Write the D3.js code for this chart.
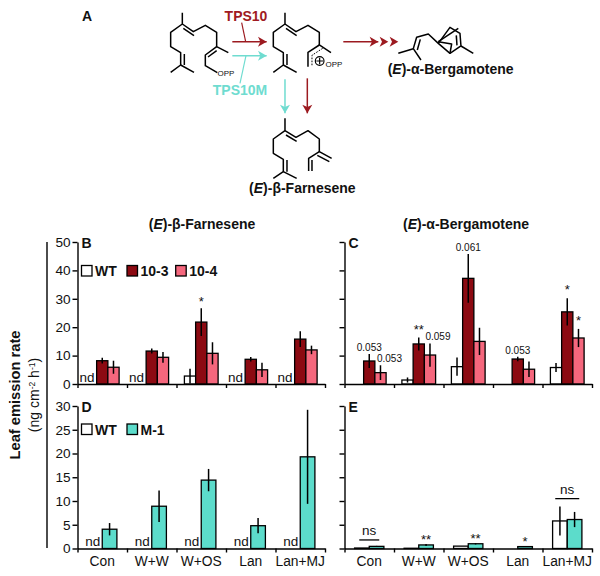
<!DOCTYPE html>
<html>
<head>
<meta charset="utf-8">
<script src="https://d3js.org/d3.v7.min.js"></script>
<style>
  html, body { margin: 0; padding: 0; background: #fff; }
  svg { display: block; }
  text { font-family: "Liberation Sans", Arial, sans-serif; fill: #111; }
</style>
</head>
<body>
<div id="chart"></div>
<script>
var categories = ["Con", "W+W", "W+OS", "Lan", "Lan+MJ"];

// (E)-b-farnesene, TPS10 lines. null = not detected
var bWT     = [null, null, 2.8, null, null];
var bWTerr  = [0, 0, 2.6, 0, 0];
var b103    = [8.2, 11.6, 21.8, 8.7, 15.8];
var b103err = [1.0, 0.9, 4.9, 0.8, 2.8];
var b104    = [5.9, 9.4, 10.8, 5.0, 12.0];
var b104err = [2.3, 1.9, 3.9, 2.5, 1.5];

// (E)-a-bergamotene, TPS10 lines
var cWT     = [0, 1.4, 6.1, 0, 5.8];
var cWTerr  = [0, 0.9, 3.2, 0, 1.6];
var c103    = [8.1, 14.1, 37.2, 8.8, 25.4];
var c103err = [2.5, 2.3, 8.6, 0.8, 4.8];
var c104    = [4.0, 10.2, 15.0, 5.2, 16.2];
var c104err = [2.6, 4.1, 4.8, 2.7, 3.2];

// (E)-b-farnesene, TPS10M line
var dWT     = [null, null, null, null, null];
var dWTerr  = [0, 0, 0, 0, 0];
var dM1     = [4.06, 8.9, 14.4, 4.8, 19.3];
var dM1err  = [1.3, 3.3, 2.35, 1.6, 9.9];

// (E)-a-bergamotene, TPS10M line
var eWT     = [0.1, 0.05, 0.5, 0, 5.8];
var eWTerr  = [0, 0, 0, 0, 3.05];
var eM1     = [0.45, 0.75, 1.0, 0.4, 6.1];
var eM1err  = [0.1, 0.2, 0.15, 0.1, 1.6];

var ticksTop = [0, 10, 20, 30, 40, 50];
var ticksBottom = [0, 5, 10, 15, 20, 25, 30];

var WHITE = "#ffffff", DARK = "#8c0a12", PINK = "#f5677d", TEAL = "#5cdccb";

var width = 600, height = 576;

var svg = d3.select("#chart").append("svg")
    .attr("width", width)
    .attr("height", height);

function panel(o) {
    var g = svg.append("g");
    var y = d3.scaleLinear().domain([0, o.ymax]).range([o.y0, o.y1]);
    var x = d3.scaleBand().domain(categories).range([o.x0, o.x0 + 247.5]);
    var edges = d3.scaleLinear().domain([0, 5]).range([o.x0, o.x0 + 247.5]);
    var inner = d3.scaleBand().domain(d3.range(o.series.length))
        .range([(x.bandwidth() - o.groupWidth) / 2, (x.bandwidth() + o.groupWidth) / 2]);

    var groups = g.selectAll(".cat").data(categories).enter().append("g")
        .attr("transform", function(d) { return "translate(" + x(d) + ",0)"; });

    o.series.forEach(function(s, i) {
        var one = groups.filter(function(d, j) { return s.v[j] !== null && s.v[j] > 0; });
        one.append("rect")
            .attr("x", inner(i))
            .attr("width", inner.bandwidth())
            .attr("y", function(d) { return y(s.v[categories.indexOf(d)]); })
            .attr("height", function(d) { return o.y0 - y(s.v[categories.indexOf(d)]); })
            .style("fill", s.color)
            .style("stroke", "#000")
            .style("stroke-width", 1.3);
        one.filter(function(d) { return s.e[categories.indexOf(d)] > 0.05; }).append("line")
            .attr("x1", inner(i) + inner.bandwidth() / 2)
            .attr("x2", inner(i) + inner.bandwidth() / 2)
            .attr("y1", function(d) { var k = categories.indexOf(d); return y(s.v[k] + s.e[k]); })
            .attr("y2", function(d) { var k = categories.indexOf(d); return y(s.v[k] - s.e[k]); })
            .style("stroke", "#000")
            .style("stroke-width", 1.5);
    });

    // not detected marks
    if (o.nd) {
        categories.forEach(function(c, k) {
            if (o.series[0].v[k] === null) {
                g.append("text")
                    .attr("x", x(c) + inner(0) + inner.bandwidth() - 2)
                    .attr("y", o.y0 - 2.5)
                    .attr("text-anchor", "end")
                    .style("font-size", "13.5px")
                    .text("nd");
            }
        });
    }

    var yAxis = d3.axisLeft(y).tickValues(o.ticks).tickSize(5).tickSizeOuter(0).tickPadding(2);
    if (!o.yLabels) yAxis.tickFormat("");
    var ya = g.append("g").attr("transform", "translate(" + o.x0 + ",0)").call(yAxis);
    ya.selectAll("text").style("font-size", "13.6px");
    ya.selectAll("path,line").style("stroke", "#000").style("stroke-width", 1.4);

    var xa = g.append("g").attr("transform", "translate(0," + o.y0 + ")")
        .call(d3.axisBottom(edges).tickValues(d3.range(6)).tickSize(4).tickSizeOuter(0).tickFormat(""));
    xa.selectAll("path,line").style("stroke", "#000").style("stroke-width", 1.4);

    if (o.xLabels) {
        var xl = g.append("g").attr("transform", "translate(0," + o.y0 + ")")
            .call(d3.axisBottom(x).tickSize(0).tickPadding(8));
        xl.select(".domain").remove();
        xl.selectAll("text").style("font-size", "13.8px");
    }

    g.append("text")
        .attr("x", o.x0 + 4)
        .attr("y", o.y1 + 6)
        .style("font-size", "14px")
        .style("font-weight", "bold")
        .text(o.letter);

    // x centre of a bar, y from a level on the value axis
    g.notes = function(list) {
        list.forEach(function(n) {
            g.append("text")
                .attr("x", x(categories[n[0]]) + inner(n[1]) + inner.bandwidth() / 2 + (n[4] || 0))
                .attr("y", y(n[2]))
                .attr("text-anchor", "middle")
                .style("font-size", n[3] === "ns" ? "13.5px" : (n[3].charAt(0) === "0" ? "10px" : "13px"))
                .text(n[3]);
        });
    };
    g.xs = x; g.inner = inner; g.yy = y;
    return g;
}

var panelB = panel({ letter: "B", x0: 77.5, y0: 384, y1: 242, ymax: 50, ticks: ticksTop, groupWidth: 33.7, yLabels: true, nd: true,
    series: [{ v: bWT, e: bWTerr, color: WHITE }, { v: b103, e: b103err, color: DARK }, { v: b104, e: b104err, color: PINK }] });
var panelC = panel({ letter: "C", x0: 344.5, y0: 384, y1: 242, ymax: 50, ticks: ticksTop, groupWidth: 33.7,
    series: [{ v: cWT, e: cWTerr, color: WHITE }, { v: c103, e: c103err, color: DARK }, { v: c104, e: c104err, color: PINK }] });
var panelD = panel({ letter: "D", x0: 77.5, y0: 548.5, y1: 406, ymax: 30, ticks: ticksBottom, groupWidth: 29.3, yLabels: true, nd: true, xLabels: true,
    series: [{ v: dWT, e: dWTerr, color: WHITE }, { v: dM1, e: dM1err, color: TEAL }] });
var panelE = panel({ letter: "E", x0: 344.5, y0: 548.5, y1: 406, ymax: 30, ticks: ticksBottom, groupWidth: 29.3, xLabels: true,
    series: [{ v: eWT, e: eWTerr, color: WHITE }, { v: eM1, e: eM1err, color: TEAL }] });

// [category, bar, level, label, shift]
panelB.notes([[2, 1, 27.5, "*"]]);
panelC.notes([
    [0, 1, 11.7, "0.053"], [0, 2, 7.9, "0.053", 9],
    [1, 1, 17.5, "**"], [1, 2, 15.4, "0.059", 8],
    [2, 1, 46.7, "0.061"],
    [3, 1, 10.7, "0.053"],
    [4, 1, 31.8, "*"], [4, 2, 20.9, "*"]
]);
panelE.notes([
    [0, 0, 2.85, "ns", 7.3],
    [1, 1, 1.05, "**"], [2, 1, 1.1, "**"], [3, 1, 0.55, "*"],
    [4, 0, 11.5, "ns", 7.3]
]);

function nsBar(p, k, level, half) {
    var cx = p.xs(categories[k]) + p.xs.bandwidth() / 2;
    svg.append("line")
        .attr("x1", cx - half).attr("x2", cx + half)
        .attr("y1", p.yy(level)).attr("y2", p.yy(level))
        .style("stroke", "#000").style("stroke-width", 1.3);
}
nsBar(panelE, 0, 1.8, 10);
nsBar(panelE, 4, 10.5, 12);

// legends
function legend(y, items) {
    items.forEach(function(it) {
        svg.append("rect").attr("x", it[0]).attr("y", y).attr("width", 10.5).attr("height", 10.5)
            .style("fill", it[2]).style("stroke", "#000").style("stroke-width", 1.3);
        svg.append("text").attr("x", it[0] + 13.5).attr("y", y + 10.5)
            .style("font-size", "14px").style("font-weight", "bold").text(it[1]);
    });
}
legend(265.5, [[81.5, "WT", WHITE], [127, "10-3", DARK], [175.7, "10-4", PINK]]);
legend(424, [[81.5, "WT", WHITE], [127, "M-1", TEAL]]);

// titles with the italic E
function nameLabel(parent, x, y, size, rest) {
    var t = parent.append("text").attr("x", x).attr("y", y).attr("text-anchor", "middle")
        .style("font-size", size + "px").style("font-weight", "bold");
    t.append("tspan").text("(");
    t.append("tspan").style("font-style", "italic").text("E");
    t.append("tspan").text(")-" + rest);
}
nameLabel(svg, 202, 229, 14, "β-Farnesene");
nameLabel(svg, 466, 229, 14, "α-Bergamotene");

// y axis title
svg.append("line").attr("x1", 47).attr("x2", 47).attr("y1", 242).attr("y2", 548)
    .style("stroke", "#000").style("stroke-width", 1.4);
svg.append("text")
    .attr("transform", "translate(20,395) rotate(-90)")
    .attr("text-anchor", "middle")
    .style("font-size", "14.7px").style("font-weight", "bold")
    .text("Leaf emission rate");
var unit = svg.append("text")
    .attr("transform", "translate(39,395) rotate(-90)")
    .attr("text-anchor", "middle")
    .style("font-size", "14px");
unit.append("tspan").text("(ng cm");
unit.append("tspan").attr("dy", -4).style("font-size", "8.5px").text("-2");
unit.append("tspan").attr("dy", 4).text(" h");
unit.append("tspan").attr("dy", -4).style("font-size", "8.5px").text("-1");
unit.append("tspan").attr("dy", 4).text(")");

// panel A, reaction scheme
var scheme = svg.append("g").attr("transform", "translate(130,0) scale(0.3333)");
var line = d3.line();

var farnesylBonds = [
    [[157,38],[157,72],[122,97],[122,140],[152,158],[152,195],[122,217]],
    [[152,195],[192,217]], [[163,162],[163,195]],
    [[157,72],[190,95],[226,76],[260,97],[260,140],[295,158]],
    [[160,85],[192,107]],
    [[260,140],[226,165],[226,197],[262,218]], [[260,152],[234,171]]
];
var cationBonds = [
    [[465,38],[465,72],[430,97],[430,140],[460,158],[460,195],[430,217]],
    [[460,195],[500,217]], [[471,162],[471,195]],
    [[465,72],[498,95],[534,76],[568,97],[568,135],[603,158]],
    [[468,85],[500,107]],
    [[568,135],[534,157],[534,200]]
];
var farneseneBonds = [
    [[465,355],[465,392],[430,417],[430,460],[460,478],[460,515],[430,535]],
    [[460,515],[500,535]], [[471,480],[471,515]],
    [[465,392],[498,412],[534,392],[568,417],[568,455],[605,475]],
    [[468,405],[500,424]], [[562,466],[598,485]],
    [[568,455],[536,475],[536,513]], [[546,480],[546,513]]
];
var bergamoteneBonds = [
    [[805,160],[850,146],[873,180]], [[850,146],[860,112],[895,102],[925,130],[960,160],[993,138],[990,100],[960,82],[925,130]],
    [[862,150],[871,118]], [[993,138],[1030,160]], [[981,136],[979,106]],
    [[925,125],[985,85]], [[925,125],[965,132],[960,160]]
];

function bonds(list, w) {
    scheme.append("g").selectAll("path").data(list).enter().append("path")
        .attr("d", line)
        .style("fill", "none")
        .style("stroke", "#000")
        .style("stroke-width", w || 4.5)
        .style("stroke-linejoin", "round");
}
bonds(farnesylBonds);
bonds(cationBonds);
bonds(farneseneBonds);
bonds(bergamoteneBonds);

// the dotted delocalised bond next to the cation
scheme.append("path")
    .attr("d", line([[578,145],[546,166],[546,197]]))
    .style("fill", "none").style("stroke", "#000").style("stroke-width", 3).style("stroke-dasharray", "5 4");
scheme.append("circle").attr("cx", 569).attr("cy", 183).attr("r", 13)
    .style("fill", "none").style("stroke", "#000").style("stroke-width", 3.5);
scheme.append("path").attr("d", "M559,183H579M569,173V193").style("stroke", "#000").style("stroke-width", 3.5);

function schemeText(x, y, size, txt, color, weight) {
    scheme.append("text").attr("x", x).attr("y", y).attr("text-anchor", "middle")
        .style("font-size", (size * 3) + "px").style("font-weight", weight || "normal")
        .style("fill", color || "#111").text(txt);
}
schemeText(288, 227, 8, "OPP");
schemeText(612, 201, 8, "OPP");
schemeText(348, 62, 14, "TPS10", "#a01a22", "bold");
schemeText(330, 284, 14, "TPS10M", "#6fdcd0", "bold");
nameLabel(scheme, 962, 222, 42, "α-Bergamotene");
nameLabel(scheme, 517, 578, 42, "β-Farnesene");

function arrow(a, b, color, heads) {
    scheme.append("path").attr("d", line([a, b]))
        .style("stroke", color).style("stroke-width", 4.5).style("fill", "none");
    (heads || [b]).forEach(function(h) {
        var vertical = a[0] === b[0];
        var d = vertical
            ? [[h[0], h[1]], [h[0] - 15, h[1] - 26], [h[0], h[1] - 19], [h[0] + 15, h[1] - 26]]
            : [[h[0], h[1]], [h[0] - 26, h[1] - 15], [h[0] - 19, h[1]], [h[0] - 26, h[1] + 15]];
        scheme.append("path").attr("d", line(d) + "Z").style("fill", color);
    });
}
var RED = "#9c1a20", AQUA = "#6fdcd0";
scheme.append("path").attr("d", line([[335,68],[347,125]])).style("stroke", RED).style("stroke-width", 3.5).style("fill", "none");
scheme.append("path").attr("d", line([[348,167],[330,250]])).style("stroke", AQUA).style("stroke-width", 3.5).style("fill", "none");
arrow([307,125], [410,125], RED);
arrow([307,167], [410,167], AQUA);
arrow([640,125], [745,125], RED, [[745,125], [775,125], [805,125]]);
arrow([465,238], [465,340], AQUA);
arrow([532,235], [532,340], RED);

svg.append("text").attr("x", 82).attr("y", 21).style("font-size", "14px").style("font-weight", "bold").text("A");
</script>
</body>
</html>
